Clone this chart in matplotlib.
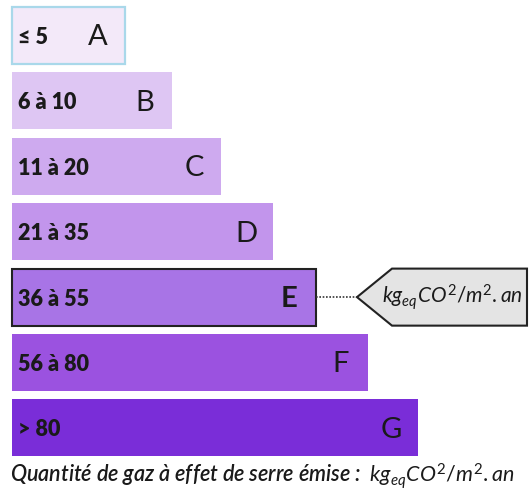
import matplotlib.pyplot as plt
from matplotlib.patches import Polygon

# classes of the GES label
letters = ["A", "B", "C", "D", "E", "F", "G"]
ranges = ["≤ 5", "6 à 10", "11 à 20", "21 à 35", "36 à 55", "56 à 80", "> 80"]
lengths = [113, 160, 209, 261, 304, 356, 406]
colors = ["#f3e9f9", "#dec6f3", "#ceaaef", "#c295ec", "#a874e6", "#9b52e0", "#7a2dd8"]
current = "E"
unit = r"$\mathit{kg_{eq}CO^{2}/m^{2}.an}$"
caption = "Quantité de gaz à effet de serre émise :  "

plt.rcParams['font.family'] = ['Lato', 'DejaVu Sans']
plt.rcParams['mathtext.fontset'] = 'custom'
plt.rcParams['mathtext.it'] = 'Lato:italic'
plt.rcParams['mathtext.rm'] = 'Lato'

fig = plt.figure(figsize=(5.30, 4.93), dpi=100)
ax = fig.add_axes([0, 0, 1, 1])
ax.set_xlim(0, 530)
ax.set_ylim(6.995, -0.543)
ax.axis("off")

x0 = 12
h = 0.872
for i, (lt, rg, ln, c) in enumerate(zip(letters, ranges, lengths, colors)):
    if lt == "A":
        ec, lw = "#a9d8ea", 1.6
    elif lt == current:
        ec, lw = "#222222", 1.5
    else:
        ec, lw = "none", 0
    ax.barh(i, ln, height=h, left=x0, color=c, edgecolor=ec, linewidth=lw)
    ax.text(x0 + 6, i + 0.03, rg, fontsize=15.5, fontweight="heavy", va="center", ha="left", color="#1a1a1a")
    ax.text(x0 + ln - 27, i + 0.03, lt, fontsize=21,
            fontweight="bold" if lt == current else "normal",
            va="center", ha="center", color="#1a1a1a")

# pointer to the current class
ci = letters.index(current)
end = x0 + lengths[ci]
tip, corner, right = 357, 392, 527
hh = h / 2
ax.plot([end, tip], [ci, ci], color="#333333", linestyle=(0, (1, 1)), linewidth=1.2)
ax.add_patch(Polygon([[tip, ci], [corner, ci - hh], [right, ci - hh],
                      [right, ci + hh], [corner, ci + hh]],
                     closed=True, facecolor="#e4e4e4", edgecolor="#222222", linewidth=1.5))
ax.text(452, ci, unit, fontsize=15, va="center", ha="center", color="#1a1a1a")

fig.text(10 / 530, 1 - 476 / 493, caption + unit, fontsize=15.5, fontstyle="italic",
         fontweight="semibold", va="center", ha="left", color="#1a1a1a")

fig.savefig("out.png", dpi=100)
